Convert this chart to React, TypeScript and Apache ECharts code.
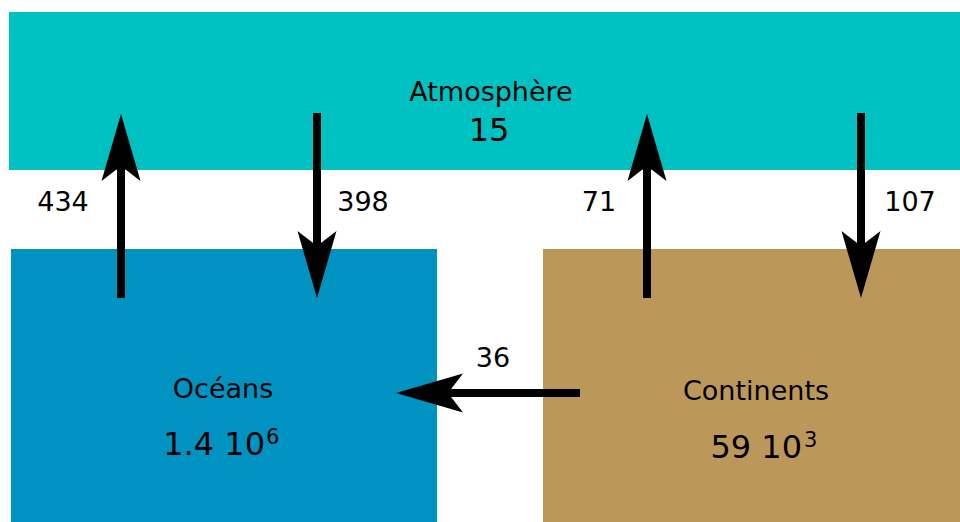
import React, { useEffect, useRef } from 'react';
import * as echarts from 'echarts';

// ---- data ----
const reservoirs = ['Atmosphère', 'Océans', 'Continents'];
const stockMantissa = ['15', '1.4', '59'];
const stockExponent = [0, 6, 3];

const fluxFrom = ['Océans', 'Atmosphère', 'Continents', 'Atmosphère', 'Continents'];
const fluxTo = ['Atmosphère', 'Océans', 'Atmosphère', 'Continents', 'Océans'];
const fluxValues = [434, 398, 71, 107, 36];

// ---- layout (diagram units) ----
const W = 960;
const H = 522;
const boxLayout = [
  { x0: 9, x1: 960, y0: 12, y1: 170, cx: 491, nameY: 91, stockX: 489, stockY: 130, supX: 0, supY: 0 },
  { x0: 11, x1: 437, y0: 249, y1: 522, cx: 223, nameY: 388, stockX: 265, stockY: 444, supX: 266, supY: 437 },
  { x0: 543, x1: 960, y0: 249, y1: 522, cx: 756, nameY: 390, stockX: 802, stockY: 447, supX: 804, supY: 440 },
];
const boxColors = ['#00C1C1', '#0093C1', '#BC975A'];
const arrowLayout = [
  [121, 298, 121, 114],
  [317, 113, 317, 298],
  [647, 298, 647, 114],
  [861, 113, 861, 298],
  [580, 393, 396, 393],
];
const labelLayout = [
  [63, 201],
  [363, 201],
  [599, 201],
  [910, 201],
  [493, 357],
];

const FONT = "'DejaVu Sans', Verdana, sans-serif";

export default function App() {
  const ref = useRef<HTMLDivElement>(null);

  useEffect(() => {
    if (!ref.current) return;
    const chart = echarts.init(ref.current, null, { renderer: 'svg' });

    const option: any = {
      animation: false,
      backgroundColor: '#ffffff',
      grid: { left: 0, right: 0, top: 0, bottom: 0 },
      xAxis: { type: 'value', min: 0, max: W, show: false },
      yAxis: { type: 'value', min: 0, max: H, inverse: true, show: false },
      series: [
        {
          type: 'custom',
          name: 'Réservoirs',
          clip: false,
          data: reservoirs.map((n, i) => [i, stockMantissa[i], stockExponent[i]]),
          renderItem: (params: any, api: any) => {
            const i = params.dataIndex;
            const b = boxLayout[i];
            const p0 = api.coord([b.x0, b.y0]);
            const p1 = api.coord([b.x1, b.y1]);
            const mant = stockMantissa[i];
            const exp = stockExponent[i];
            const nameP = api.coord([b.cx, b.nameY]);
            const stockP = api.coord([b.stockX, b.stockY]);
            const children: any[] = [
              {
                type: 'rect',
                shape: { x: p0[0], y: p0[1], width: p1[0] - p0[0], height: p1[1] - p0[1] },
                style: { fill: boxColors[i] },
              },
              {
                type: 'text',
                style: {
                  x: nameP[0],
                  y: nameP[1],
                  text: reservoirs[i],
                  fill: '#000',
                  fontSize: 27,
                  fontFamily: FONT,
                  align: 'center',
                  verticalAlign: 'middle',
                },
              },
              {
                type: 'text',
                style: {
                  x: stockP[0],
                  y: stockP[1],
                  text: exp ? `${mant} 10` : mant,
                  fill: '#000',
                  fontSize: 32,
                  fontFamily: FONT,
                  align: exp ? 'right' : 'center',
                  verticalAlign: 'middle',
                },
              },
            ];
            if (exp) {
              const supP = api.coord([b.supX, b.supY]);
              children.push({
                type: 'text',
                style: {
                  x: supP[0],
                  y: supP[1],
                  text: String(exp),
                  fill: '#000',
                  fontSize: 21,
                  fontFamily: FONT,
                  align: 'left',
                  verticalAlign: 'middle',
                },
              });
            }
            return { type: 'group', children };
          },
        },
        {
          type: 'custom',
          name: 'Flux',
          clip: false,
          data: fluxValues.map((v, i) => [i, v, fluxFrom[i], fluxTo[i]]),
          renderItem: (params: any, api: any) => {
            const i = params.dataIndex;
            const a = arrowLayout[i];
            const s = api.coord([a[0], a[1]]);
            const t = api.coord([a[2], a[3]]);
            const dx = t[0] - s[0];
            const dy = t[1] - s[1];
            const len = Math.sqrt(dx * dx + dy * dy);
            const ux = dx / len;
            const uy = dy / len;
            const nx = -uy;
            const ny = ux;
            const L = 67;
            const N = 52;
            const hw = 19.5;
            const sw = 4;
            const sEnd = [t[0] - ux * (N - 1), t[1] - uy * (N - 1)];
            const lp = api.coord(labelLayout[i]);
            return {
              type: 'group',
              children: [
                {
                  type: 'polygon',
                  shape: {
                    points: [
                      [s[0] + nx * sw, s[1] + ny * sw],
                      [sEnd[0] + nx * sw, sEnd[1] + ny * sw],
                      [sEnd[0] - nx * sw, sEnd[1] - ny * sw],
                      [s[0] - nx * sw, s[1] - ny * sw],
                    ],
                  },
                  style: { fill: '#000' },
                },
                {
                  type: 'polygon',
                  shape: {
                    points: [
                      [t[0], t[1]],
                      [t[0] - ux * L + nx * hw, t[1] - uy * L + ny * hw],
                      [t[0] - ux * N, t[1] - uy * N],
                      [t[0] - ux * L - nx * hw, t[1] - uy * L - ny * hw],
                    ],
                  },
                  style: { fill: '#000' },
                },
                {
                  type: 'text',
                  style: {
                    x: lp[0],
                    y: lp[1],
                    text: String(fluxValues[i]),
                    fill: '#000',
                    fontSize: 27,
                    fontFamily: FONT,
                    align: 'center',
                    verticalAlign: 'middle',
                  },
                },
              ],
            };
          },
        },
      ],
    };

    chart.setOption(option);
    return () => chart.dispose();
  }, []);

  return (
    <div
      ref={ref}
      style={{ position: 'fixed', left: 0, top: 0, width: W, height: H }}
    />
  );
}
